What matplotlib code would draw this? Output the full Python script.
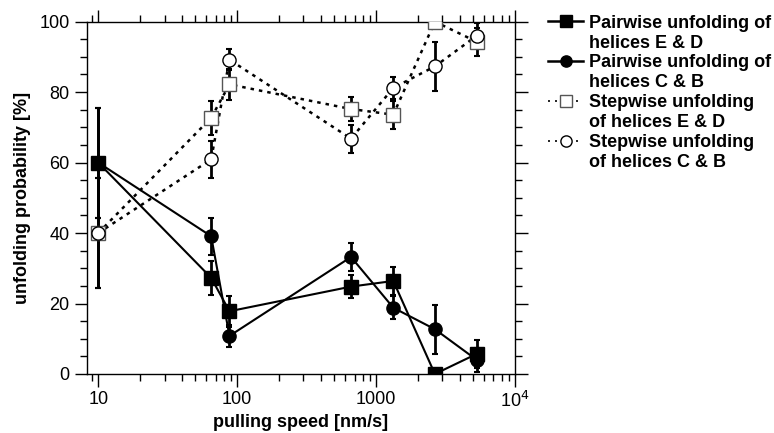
import numpy as np
import matplotlib
matplotlib.use("Agg")
import matplotlib.pyplot as plt
from matplotlib.lines import Line2D
from matplotlib.ticker import FixedLocator, NullFormatter, LogLocator

plt.rcParams['font.family'] = ['Liberation Sans', 'DejaVu Sans']

# DATA
speed = [10, 65, 88, 660, 1330, 2650, 5300]

pair_ed = [60, 27.3, 17.8, 24.8, 26.4, 0, 5.7]
pair_ed_err = [15.6, 4.9, 4.4, 3.3, 4.0, 0, 4.0]

pair_cb = [60, 39.1, 10.8, 33.2, 18.8, 12.7, 4.0]
pair_cb_err = [15.6, 5.3, 3.0, 4.0, 3.2, 7.0, 3.5]

step_ed = [40, 72.7, 82.2, 75.2, 73.6, 100, 94.3]
step_ed_err = [15.6, 4.9, 4.4, 3.3, 4.0, 0, 4.0]

step_cb = [40, 60.9, 89.2, 66.8, 81.2, 87.3, 96.0]
step_cb_err = [15.6, 5.3, 3.0, 4.0, 3.2, 7.0, 3.5]

labels = ["Pairwise unfolding of", "helices E & D",
          "Pairwise unfolding of", "helices C & B",
          "Stepwise unfolding", "of helices E & D",
          "Stepwise unfolding", "of helices C & B"]

# FIGURE
fig = plt.figure(figsize=(7.74, 4.33), dpi=100)
ax = fig.add_axes([0.1124, 0.1363, 0.5530, 0.8137])

dash = (1.4, 2.0)
series = [
    (pair_ed, pair_ed_err, 's', 'black', 'black', '-', 10),
    (pair_cb, pair_cb_err, 'o', 'black', 'black', '-', 9.5),
    (step_ed, step_ed_err, 's', 'white', '#555555', ':', 10),
    (step_cb, step_cb_err, 'o', 'white', 'black', ':', 9.5),
]

handles = []
for vals, err, mk, fc, ec, ls, ms in series:
    ax.errorbar(speed, vals, yerr=err, fmt='none', ecolor='black',
                elinewidth=2, capsize=2.5, capthick=1.5, zorder=2)
    if ls == '-':
        line, = ax.plot(speed, vals, color='black', lw=1.5, zorder=3)
    else:
        line, = ax.plot(speed, vals, color='black', lw=1.8, zorder=3)
        line.set_dashes(dash)
    ax.plot(speed, vals, linestyle='none', marker=mk, ms=ms, mfc=fc,
            mec=ec, mew=1.0, zorder=4)
    # legend handle + blank row for the second label line
    h = Line2D([], [], color='black', lw=1.8 if ls == '-' else 1.2,
               marker=mk, ms=ms * 0.85, mfc=fc, mec=ec, mew=1.0)
    if ls != '-':
        h.set_dashes((1.2, 3.0))
    handles.append(h)
    handles.append(Line2D([], [], linestyle='none'))

ax.set_xscale('log')
ax.set_xlim(8.3, 10000)
ax.set_ylim(0, 100)

ax.xaxis.set_major_locator(FixedLocator([10, 100, 1000, 10000]))
ax.set_xticklabels(['10', '100', '1000', r'10$^4$'])
ax.xaxis.set_minor_locator(LogLocator(base=10, subs=np.arange(2, 10)))
ax.xaxis.set_minor_formatter(NullFormatter())
ax.set_yticks([0, 20, 40, 60, 80, 100])
ax.yaxis.set_minor_locator(FixedLocator(np.arange(0, 101, 5)))

ax.tick_params(which='both', direction='out', top=True, right=True,
               labelsize=13, width=1, colors='black')
ax.tick_params(which='major', length=9)
ax.tick_params(which='minor', length=5)
for s in ax.spines.values():
    s.set_linewidth(1)

ax.set_xlabel('pulling speed [nm/s]', fontsize=13, fontweight='bold', labelpad=2)
ax.set_ylabel('unfolding probability [%]', fontsize=13, fontweight='bold', labelpad=6)

leg = fig.legend(handles, labels, loc='upper left',
                 bbox_to_anchor=(0.708, 0.966), frameon=False,
                 fontsize=13, handlelength=1.95, handletextpad=0.3,
                 labelspacing=0.16, borderaxespad=0, borderpad=0)
for t in leg.get_texts():
    t.set_fontweight('bold')

fig.savefig("out.png", dpi=100)
